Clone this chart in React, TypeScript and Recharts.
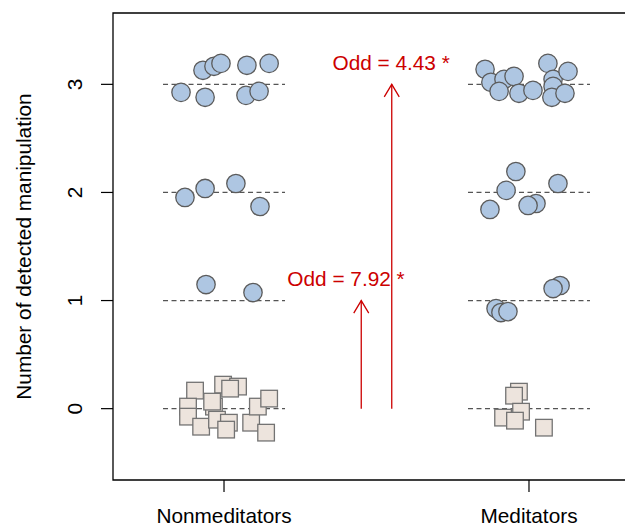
import { ComposedChart, Scatter, XAxis, YAxis, ReferenceLine, ReferenceArea, ReferenceDot } from "recharts"

const groups = ["Nonmeditators", "Meditators"]
const groupPos = [1, 2]
const levels = [0, 1, 2, 3]

// jittered answers, circles = at least one detection, squares = none
const nonmedCircles = [
  { x: 0.859, y: 2.926 }, { x: 0.938, y: 2.88 }, { x: 0.931, y: 3.13 }, { x: 0.967, y: 3.167 },
  { x: 0.99, y: 3.194 }, { x: 1.075, y: 3.176 }, { x: 1.148, y: 3.194 }, { x: 1.072, y: 2.898 },
  { x: 1.115, y: 2.935 },
  { x: 0.872, y: 1.954 }, { x: 0.938, y: 2.037 }, { x: 1.039, y: 2.083 }, { x: 1.118, y: 1.87 },
  { x: 0.941, y: 1.148 }, { x: 1.095, y: 1.074 },
]

const medCircles = [
  { x: 1.856, y: 3.139 }, { x: 1.875, y: 3.019 }, { x: 1.918, y: 3.046 }, { x: 1.902, y: 2.935 },
  { x: 1.951, y: 3.074 }, { x: 1.967, y: 2.917 }, { x: 2.013, y: 2.944 }, { x: 2.062, y: 3.194 },
  { x: 2.079, y: 3.046 }, { x: 2.079, y: 2.981 }, { x: 2.075, y: 2.88 }, { x: 2.128, y: 3.12 },
  { x: 2.118, y: 2.917 },
  { x: 1.957, y: 2.194 }, { x: 1.925, y: 2.019 }, { x: 1.872, y: 1.843 }, { x: 2.023, y: 1.898 },
  { x: 1.997, y: 1.88 }, { x: 2.095, y: 2.083 },
  { x: 2.102, y: 1.139 }, { x: 2.079, y: 1.111 }, { x: 1.892, y: 0.926 }, { x: 1.908, y: 0.889 },
  { x: 1.931, y: 0.898 },
]

const nonmedSquares = [
  { x: 0.905, y: 0.167 }, { x: 0.997, y: 0.222 }, { x: 1.046, y: 0.204 }, { x: 1.02, y: 0.185 },
  { x: 0.882, y: 0.019 }, { x: 0.882, y: -0.074 }, { x: 0.967, y: 0.019 }, { x: 0.961, y: 0.065 },
  { x: 0.925, y: -0.167 }, { x: 0.977, y: -0.102 }, { x: 1.016, y: -0.13 }, { x: 1.007, y: -0.194 },
  { x: 1.089, y: -0.13 }, { x: 1.111, y: 0.019 }, { x: 1.148, y: 0.093 }, { x: 1.138, y: -0.222 },
]

const medSquares = [
  { x: 1.967, y: 0.157 }, { x: 1.951, y: 0.12 }, { x: 1.974, y: -0.028 }, { x: 1.915, y: -0.083 },
  { x: 1.954, y: -0.111 }, { x: 2.049, y: -0.176 },
]

const arrows = [
  { x: 1.45, from: 0, to: 1 },
  { x: 1.55, from: 0, to: 3 },
]

const odds = [
  { x: 1.4, y: 1.13, label: "Odd = 7.92 *" },
  { x: 1.548, y: 3.13, label: "Odd = 4.43 *" },
]

const font = "'Liberation Sans', Arial, Helvetica, sans-serif"
const fs = 20.8
const red = "#cc0000"

const Circle = (p: any) => (
  <circle cx={p.cx} cy={p.cy} r={9.2} fill="#aec6e2" stroke="#5b5b5b" strokeWidth={1.3} />
)

const Square = (p: any) => (
  <rect x={p.cx - 8.3} y={p.cy - 8.3} width={16.6} height={16.6} fill="#ede4dd" stroke="#737373" strokeWidth={1.3} />
)

const Arrow = (p: any) => (
  <g stroke={red} strokeWidth={1.3} fill="none">
    <line x1={p.x1} y1={p.y1} x2={p.x2} y2={p.y2} />
    <polyline points={`${p.x2 - 7.5},${p.y2 + 12.5} ${p.x2},${p.y2} ${p.x2 + 7.5},${p.y2 + 12.5}`} />
  </g>
)

const XTick = (p: any) => (
  <text x={p.x} y={p.y + 31} textAnchor="middle" fontSize={fs} fontFamily={font} fill="#000">
    {groups[groupPos.indexOf(p.payload.value)]}
  </text>
)

const YTick = (p: any) => (
  <text transform={`translate(${p.x - 19},${p.y}) rotate(-90)`} textAnchor="middle" fontSize={fs} fontFamily={font} fill="#000">
    {p.payload.value}
  </text>
)

export default function App() {
  return (
    <div style={{ position: "absolute", left: 0, top: 0, width: 625, height: 528, overflow: "hidden", background: "#fff" }}>
      <ComposedChart width={660} height={528} margin={{ top: 13, right: 20, bottom: 0, left: 13 }}>
        <XAxis
          type="number"
          dataKey="x"
          domain={[0.636, 2.364]}
          ticks={groupPos}
          allowDataOverflow
          axisLine={false}
          tickSize={12}
          tickMargin={0}
          tickLine={{ stroke: "#000", strokeWidth: 1.2 }}
          tick={<XTick />}
          height={48}
        />
        <YAxis
          type="number"
          dataKey="y"
          domain={[-0.66, 3.66]}
          ticks={levels}
          allowDataOverflow
          axisLine={false}
          tickSize={12}
          tickMargin={0}
          tickLine={{ stroke: "#000", strokeWidth: 1.2 }}
          tick={<YTick />}
          width={100}
          label={{
            content: (lp: any) => {
              const vb = lp.viewBox
              return (
                <text
                  transform={`translate(${vb.x + 18},${vb.y + vb.height / 2}) rotate(-90)`}
                  textAnchor="middle"
                  fontSize={fs}
                  fontFamily={font}
                  fill="#000"
                >
                  Number of detected manipulation
                </text>
              )
            },
          }}
        />
        <ReferenceArea x1={0.636} x2={2.364} y1={-0.66} y2={3.66} fill="none" stroke="#000" strokeWidth={1.3} ifOverflow="visible" />
        {groupPos.map((g) =>
          levels.map((lv) => (
            <ReferenceLine
              key={`${g}-${lv}`}
              segment={[{ x: g - 0.2, y: lv }, { x: g + 0.2, y: lv }]}
              stroke="#555"
              strokeWidth={1.2}
              strokeDasharray="5 3.5"
            />
          ))
        )}
        {arrows.map((a, i) => (
          <ReferenceLine key={`arrow-${i}`} segment={[{ x: a.x, y: a.from }, { x: a.x, y: a.to }]} shape={Arrow} />
        ))}
        {odds.map((o, i) => (
          <ReferenceDot
            key={`odd-${i}`}
            x={o.x}
            y={o.y}
            shape={(p: any) => (
              <text x={p.cx} y={p.cy} textAnchor="middle" fontSize={fs} fontFamily={font} fill={red}>
                {o.label}
              </text>
            )}
          />
        ))}
        <Scatter data={nonmedSquares} shape={Square} isAnimationActive={false} />
        <Scatter data={medSquares} shape={Square} isAnimationActive={false} />
        <Scatter data={nonmedCircles} shape={Circle} isAnimationActive={false} />
        <Scatter data={medCircles} shape={Circle} isAnimationActive={false} />
      </ComposedChart>
    </div>
  )
}
